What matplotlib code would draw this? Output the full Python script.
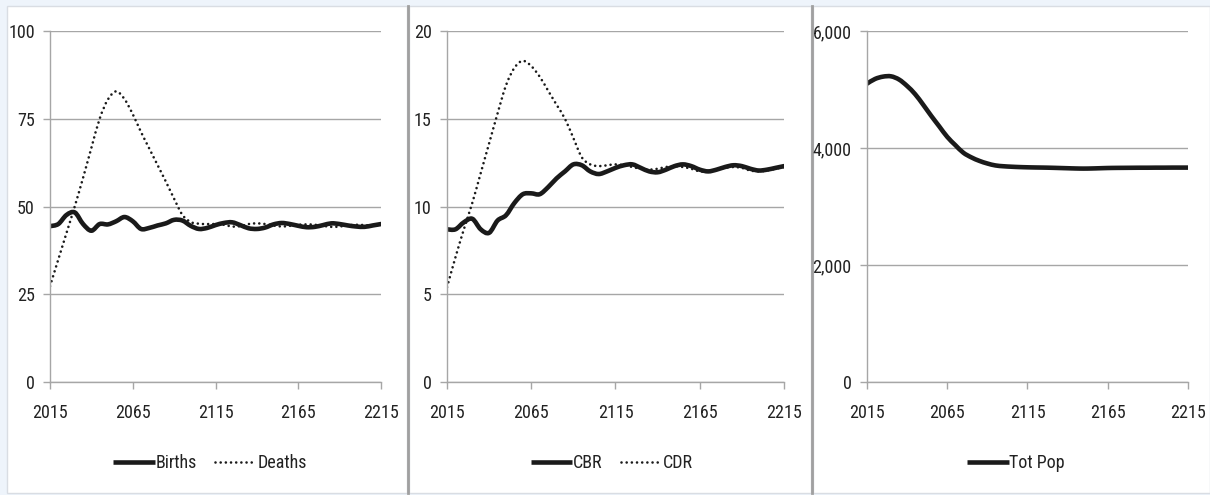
import matplotlib
matplotlib.use("Agg")
import matplotlib.pyplot as plt
from matplotlib import font_manager
from matplotlib.patches import Rectangle, PathPatch
from matplotlib.path import Path
from matplotlib.lines import Line2D
from matplotlib.ticker import FuncFormatter

# pick a condensed sans face if one is installed
_names = {}
for f in font_manager.fontManager.ttflist:
    _names.setdefault(f.name, set()).add(str(f.stretch))
chosen = None
for cand in ['Liberation Sans Narrow', 'Roboto Condensed', 'Open Sans Condensed',
             'Noto Sans Condensed', 'Arial Narrow', 'DejaVu Sans Condensed']:
    if cand in _names:
        chosen = cand
        break
stretch = 'normal'
if chosen is None:
    for fam in ['Noto Sans', 'Open Sans', 'Roboto', 'DejaVu Sans']:
        st = _names.get(fam, set())
        hits = [s for s in st if 'condensed' in s or s in ('300', '400', '200', '100')]
        if hits:
            chosen = fam
            stretch = 'condensed'
            break
if chosen is None:
    chosen = 'Liberation Sans'
plt.rcParams['font.family'] = [chosen, 'DejaVu Sans']
plt.rcParams['font.stretch'] = stretch

years = list(range(2015, 2216, 5))

births = [44.4, 45.0, 47.6, 48.3, 45.0, 43.1, 45.0, 44.9, 45.8, 47.0,
          45.8, 43.6, 43.9, 44.6, 45.2, 46.2, 46.0, 44.5, 43.6, 43.9,
          44.7, 45.3, 45.5, 44.7, 43.8, 43.6, 44.0, 44.9, 45.3, 45.0,
          44.5, 44.1, 44.2, 44.7, 45.2, 45.0, 44.6, 44.3, 44.2, 44.6, 45.0]
deaths = [27.3, 34.9, 42.5, 50.1, 58.2, 66.7, 75.0, 80.5, 82.8, 80.6,
          76.3, 71.2, 66.5, 61.8, 57.1, 52.2, 47.6, 45.6, 45.1, 45.0,
          45.0, 44.8, 44.3, 44.4, 45.0, 45.2, 45.0, 44.6, 44.3, 44.5,
          44.8, 44.9, 44.8, 44.5, 44.2, 44.3, 44.6, 44.8, 44.7, 44.6, 44.8]

cbr = [8.7, 8.7, 9.1, 9.3, 8.7, 8.5, 9.2, 9.5, 10.2, 10.7,
       10.75, 10.7, 11.1, 11.6, 12.0, 12.4, 12.35, 12.0, 11.85, 12.0,
       12.2, 12.35, 12.4, 12.2, 12.0, 11.95, 12.1, 12.3, 12.4, 12.3,
       12.1, 12.0, 12.1, 12.25, 12.35, 12.3, 12.15, 12.05, 12.1, 12.2, 12.3]
cdr = [5.4, 7.1, 8.7, 10.2, 11.9, 13.6, 15.3, 16.9, 17.9, 18.3,
       18.0, 17.4, 16.6, 15.8, 15.0, 13.9, 12.8, 12.4, 12.3, 12.35,
       12.4, 12.35, 12.25, 12.15, 12.1, 12.15, 12.25, 12.3, 12.25, 12.15,
       12.0, 12.0, 12.1, 12.2, 12.25, 12.2, 12.05, 12.0, 12.05, 12.15, 12.25]

tot_pop = [5100, 5180, 5220, 5225, 5170, 5060, 4920, 4740, 4550, 4370,
           4190, 4050, 3920, 3840, 3780, 3735, 3702, 3688, 3680, 3674,
           3670, 3667, 3665, 3662, 3658, 3654, 3650, 3648, 3650, 3654,
           3658, 3660, 3661, 3662, 3663, 3663, 3664, 3664, 3665, 3665, 3665]

xticks = [2015, 2065, 2115, 2165, 2215]

W, H = 1210, 495
fig = plt.figure(figsize=(W / 100, H / 100), dpi=100)
fig.patch.set_facecolor('#eef4fb')


def fx(px):
    return px / W


def fy(py):
    return 1 - py / H


# white chart areas with light borders and grey separators
panels = [(7, 407), (409, 811), (813, 1210)]
for x0, x1 in panels:
    fig.patches.append(Rectangle((fx(x0), fy(493)), fx(x1 - x0), (493 - 6) / H,
                                 transform=fig.transFigure, facecolor='white',
                                 edgecolor='#d9dde3', linewidth=1.0, zorder=-3))
for sx in (408, 812):
    fig.lines.append(Line2D([fx(sx), fx(sx)], [fy(493), fy(6)], transform=fig.transFigure,
                            color='#a0a0a0', linewidth=2.0, zorder=-2))

grid_c = '#a6a6a6'
line_c = '#1a1a1a'
text_c = '#222222'
FS = 13


def make_ax(left_px, right_px):
    ax = fig.add_axes([fx(left_px), fy(382), fx(right_px - left_px), (382 - 31) / H])
    ax.set_facecolor('none')
    ax.set_xlim(2015, 2215)
    ax.set_xticks(xticks)
    ax.set_xticklabels([str(t) for t in xticks])
    for s in ('top', 'right'):
        ax.spines[s].set_visible(False)
    for s in ('left', 'bottom'):
        ax.spines[s].set_color(grid_c)
        ax.spines[s].set_linewidth(1.0)
    ax.grid(axis='y', color=grid_c, linewidth=1.0)
    ax.set_axisbelow(True)
    ax.tick_params(axis='both', colors=grid_c, labelcolor=text_c, labelsize=FS,
                   length=5, width=1.0, direction='out')
    ax.tick_params(axis='x', pad=11)
    ax.tick_params(axis='y', pad=6)
    return ax


def smooth_line(ax, xs, ys, label, **kw):
    """Smoothed line through the data points (Catmull-Rom as cubic Bezier)."""
    n = len(xs)
    verts = [(xs[0], ys[0])]
    codes = [Path.MOVETO]
    for i in range(n - 1):
        x0, y0 = xs[max(i - 1, 0)], ys[max(i - 1, 0)]
        x1, y1 = xs[i], ys[i]
        x2, y2 = xs[i + 1], ys[i + 1]
        x3, y3 = xs[min(i + 2, n - 1)], ys[min(i + 2, n - 1)]
        c1 = (x1 + (x2 - x0) / 6.0, y1 + (y2 - y0) / 6.0)
        c2 = (x2 - (x3 - x1) / 6.0, y2 - (y3 - y1) / 6.0)
        verts += [c1, c2, (x2, y2)]
        codes += [Path.CURVE4] * 3
    patch = PathPatch(Path(verts, codes), facecolor='none', edgecolor=kw['color'],
                      linewidth=kw['linewidth'], linestyle=kw.get('linestyle', '-'),
                      capstyle=kw.get('cap', 'round'), joinstyle='round')
    ax.add_patch(patch)
    ax.plot([], [], label=label, color=kw['color'], linewidth=kw['linewidth'],
            linestyle=kw.get('linestyle', '-'), dash_capstyle=kw.get('cap', 'round'),
            solid_capstyle='butt')


solid_kw = dict(color=line_c, linewidth=3.3)
dot_kw = dict(color=line_c, linewidth=1.9, linestyle=(0, (0.01, 1.95)), cap='round')

leg_kw = dict(loc='center', frameon=False, ncol=2, handlelength=2.3, handletextpad=0.05,
              columnspacing=1.0, fontsize=FS, labelcolor=text_c)

# Births and deaths
ax1 = make_ax(50, 381)
smooth_line(ax1, years, births, 'Births', **solid_kw)
smooth_line(ax1, years, deaths, 'Deaths', **dot_kw)
ax1.set_ylim(0, 100)
ax1.set_yticks([0, 25, 50, 75, 100])
ax1.legend(bbox_to_anchor=(fx(210), fy(463)), bbox_transform=fig.transFigure, **leg_kw)

# Crude birth and death rates
ax2 = make_ax(447, 784)
smooth_line(ax2, years, cbr, 'CBR', **solid_kw)
smooth_line(ax2, years, cdr, 'CDR', **dot_kw)
ax2.set_ylim(0, 20)
ax2.set_yticks([0, 5, 10, 15, 20])
ax2.legend(bbox_to_anchor=(fx(612), fy(463)), bbox_transform=fig.transFigure, **leg_kw)

# Total population
ax3 = make_ax(867, 1188)
smooth_line(ax3, years, tot_pop, 'Tot Pop', **solid_kw)
ax3.set_ylim(0, 6000)
ax3.set_yticks([0, 2000, 4000, 6000])
ax3.yaxis.set_major_formatter(FuncFormatter(lambda v, p: f'{v:,.0f}'))
ax3.legend(bbox_to_anchor=(fx(1016), fy(463)), bbox_transform=fig.transFigure, **leg_kw)

fig.savefig('out.png', dpi=100, facecolor=fig.get_facecolor())
